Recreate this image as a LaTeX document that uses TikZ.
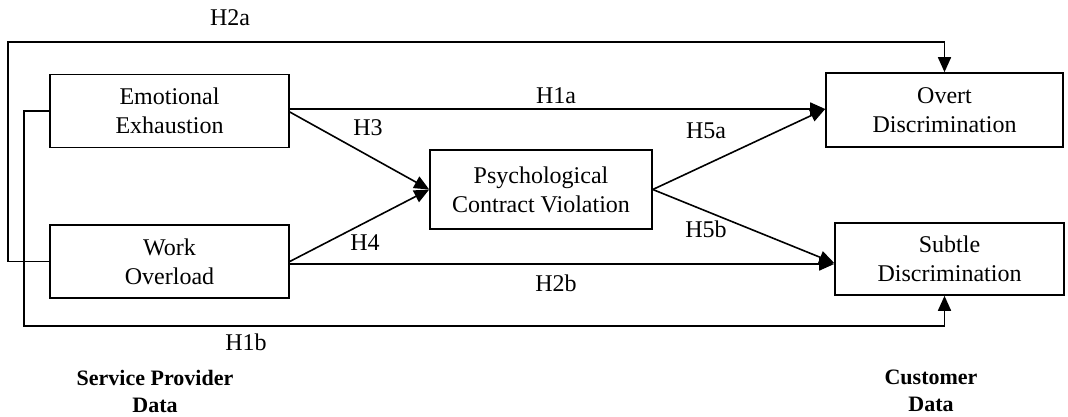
\documentclass[tikz,border=0pt]{standalone}
\usepackage{fontspec}
\setmainfont{Liberation Serif}
\usetikzlibrary{arrows.meta}
\begin{document}
\begin{tikzpicture}[x=1pt,y=-1pt,
  box/.style={draw,line width=1.6pt,rectangle,inner sep=0pt,align=center,
    font=\fontsize{24}{29}\selectfont},
  conn/.style={line width=1.6pt},
  arr/.style={conn,-{Triangle[length=15pt,width=13pt]}},
  lab/.style={font=\fontsize{24}{28}\selectfont,inner sep=0pt},
  foot/.style={font=\bfseries\fontsize{22}{27}\selectfont,align=center,inner sep=0pt}]
\useasboundingbox (0,0) rectangle (1068,417);
\node[box,minimum width=239pt,minimum height=73pt] (ee) at (169.5,111) {Emotional\\Exhaustion};
\node[box,minimum width=239pt,minimum height=73pt] (wo) at (169.5,261.5) {Work\\Overload};
\node[box,minimum width=222pt,minimum height=79pt] (pcv) at (541,189.5) {Psychological\\Contract Violation};
\node[box,minimum width=237pt,minimum height=74pt] (od) at (944.5,110) {Overt\\Discrimination};
\node[box,minimum width=229pt,minimum height=72pt] (sd) at (949.5,259) {Subtle\\Discrimination};
\coordinate (c1) at (8,42);
\coordinate (c2) at (24,326);
% connectors
\draw[arr] (wo.west) -| (c1) -| (od.north);
\draw[arr] (ee.west) -| (c2) -| ([xshift=-5pt]sd.south);
\draw[arr] ([yshift=2pt]ee.east) -- ([yshift=2pt]ee.east -| od.west);
\draw[arr] ([yshift=-1pt]ee.east) -- (pcv.west);
\draw[arr] (wo.east) -- (pcv.west);
\draw[arr] ([yshift=-2.5pt]wo.east) -- ([yshift=-2.5pt]wo.east -| sd.west);
\draw[arr] (pcv.east) -- ([yshift=1pt]od.west);
\draw[arr] (pcv.east) -- ([yshift=-4pt]sd.west);
% labels
\node[lab] (l2a) at (230,18) {H2a};
\node[lab] (l1a) at (556,96) {H1a};
\node[lab] (l3) at (368,128) {H3};
\node[lab] (l5a) at (706,131) {H5a};
\node[lab] (l4) at (365,243) {H4};
\node[lab] (l5b) at (706,229) {H5b};
\node[lab] (l2b) at (556,283) {H2b};
\node[lab] (l1b) at (246,342) {H1b};
\node[foot] (spd) at (155,391) {Service Provider\\Data};
\node[foot] (cd) at (931,391) {Customer\\Data};
\end{tikzpicture}
\end{document}
